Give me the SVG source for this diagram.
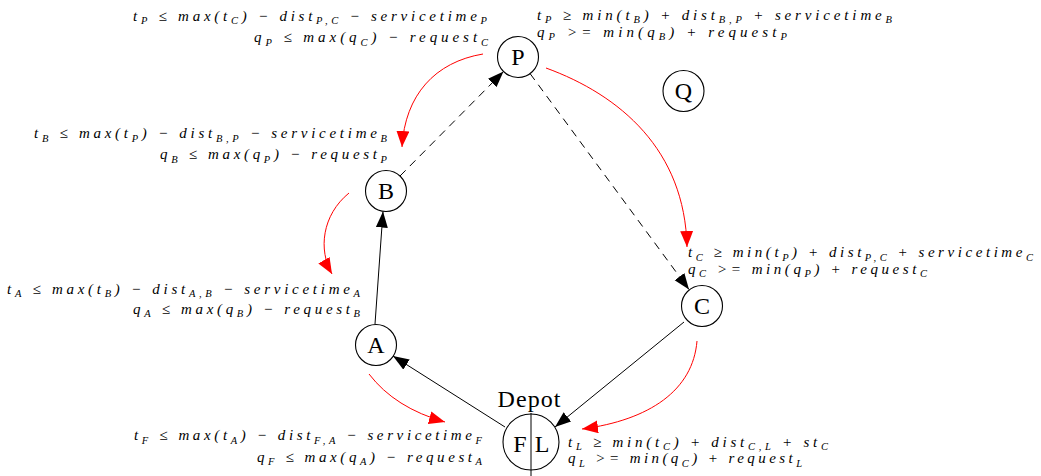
<svg xmlns="http://www.w3.org/2000/svg" width="1041" height="476" viewBox="0 0 1041 476">
<style>
.m{font-family:"Liberation Serif","Times New Roman",serif;font-style:italic;font-size:15px;fill:#000}
.s{font-size:10.5px}
.node{fill:#fff;stroke:#000;stroke-width:1.1}
.lbl{font-family:"Liberation Serif","Times New Roman",serif;font-size:24px;fill:#000;text-anchor:middle}
.blk{fill:none;stroke:#000;stroke-width:1}
.dash{fill:none;stroke:#000;stroke-width:1;stroke-dasharray:8 6}
.red{fill:none;stroke:#ff0000;stroke-width:1}
</style>
<defs>
<marker id="ab" markerUnits="userSpaceOnUse" markerWidth="17" markerHeight="13" refX="16" refY="6" orient="auto">
<path d="M0,0 L16,6 L0,12 z" fill="#000"/>
</marker>
<marker id="ar" markerUnits="userSpaceOnUse" markerWidth="17" markerHeight="14" refX="16" refY="6.5" orient="auto">
<path d="M0,0 L16,6.5 L0,13 z" fill="#ff0000"/>
</marker>
</defs>
<rect width="1041" height="476" fill="#fff"/>

<g id="connectors">
<line class="blk" x1="375" y1="324" x2="383" y2="211.5" marker-end="url(#ab)"/>
<line class="blk" x1="505" y1="427" x2="393" y2="356" marker-end="url(#ab)"/>
<line class="blk" x1="684" y1="322" x2="555" y2="427" marker-end="url(#ab)"/>
<line class="dash" x1="400" y1="176" x2="503.5" y2="71.5" marker-end="url(#ab)"/>
<line class="dash" x1="530" y1="73.5" x2="689" y2="289.5" marker-end="url(#ab)"/>
<path class="red" d="M483,54 C435,62 405,95 402,147" marker-end="url(#ar)"/>
<path class="red" d="M546,68 C620,95 685,150 687,247" marker-end="url(#ar)"/>
<path class="red" d="M349,193 C322,215 318,250 332,274" marker-end="url(#ar)"/>
<path class="red" d="M369,374 Q395,408 445,422" marker-end="url(#ar)"/>
<path class="red" d="M697,341 C693,390 650,420 582,429" marker-end="url(#ar)"/>
</g>

<g id="node-P">
<circle class="node" cx="518" cy="57" r="20.5"/>
<text class="lbl" x="518" y="65">P</text>
</g>
<g id="node-Q">
<circle class="node" cx="683.5" cy="91" r="20.5"/>
<text class="lbl" x="683.5" y="99">Q</text>
</g>
<g id="node-B">
<circle class="node" cx="386" cy="191" r="20.5"/>
<text class="lbl" x="386" y="199">B</text>
</g>
<g id="node-A">
<circle class="node" cx="376" cy="345" r="20.5"/>
<text class="lbl" x="376" y="353">A</text>
</g>
<g id="node-C">
<circle class="node" cx="702" cy="306" r="20.5"/>
<text class="lbl" x="702" y="314">C</text>
</g>
<g id="node-Depot">
<circle class="node" cx="531" cy="442" r="28"/>
<line x1="531" y1="413" x2="531" y2="476" stroke="#000" stroke-width="1"/>
<text class="lbl" x="520" y="451.5">F</text>
<text class="lbl" x="542" y="451.5">L</text>
<text class="lbl" x="529" y="407" textLength="63" lengthAdjust="spacing">Depot</text>
</g>

<g id="labels">
<text class="m" x="487" y="20.5" text-anchor="end" textLength="354" lengthAdjust="spacing">t<tspan class="s" dy="3.5">P</tspan><tspan dy="-3.5"> ≤ max(t</tspan><tspan class="s" dy="3.5">C</tspan><tspan dy="-3.5">) − dist</tspan><tspan class="s" dy="3.5">P,C</tspan><tspan dy="-3.5"> − servicetime</tspan><tspan class="s" dy="3.5">P</tspan></text>
<text class="m" x="488" y="42" text-anchor="end" textLength="234" lengthAdjust="spacing">q<tspan class="s" dy="3.5">P</tspan><tspan dy="-3.5"> ≤ max(q</tspan><tspan class="s" dy="3.5">C</tspan><tspan dy="-3.5">) − request</tspan><tspan class="s" dy="3.5">C</tspan></text>

<text class="m" x="537" y="20" textLength="355" lengthAdjust="spacing">t<tspan class="s" dy="3">P</tspan><tspan dy="-3"> ≥ min(t</tspan><tspan class="s" dy="3">B</tspan><tspan dy="-3">) + dist</tspan><tspan class="s" dy="3">B,P</tspan><tspan dy="-3"> + servicetime</tspan><tspan class="s" dy="3">B</tspan></text>
<text class="m" x="537" y="37" textLength="250" lengthAdjust="spacing">q<tspan class="s" dy="3">P</tspan><tspan dy="-3"> &gt;= min(q</tspan><tspan class="s" dy="3">B</tspan><tspan dy="-3">) + request</tspan><tspan class="s" dy="3">P</tspan></text>

<text class="m" x="387" y="138" text-anchor="end" textLength="353" lengthAdjust="spacing">t<tspan class="s" dy="3.5">B</tspan><tspan dy="-3.5"> ≤ max(t</tspan><tspan class="s" dy="3.5">P</tspan><tspan dy="-3.5">) − dist</tspan><tspan class="s" dy="3.5">B,P</tspan><tspan dy="-3.5"> − servicetime</tspan><tspan class="s" dy="3.5">B</tspan></text>
<text class="m" x="387" y="159" text-anchor="end" textLength="227" lengthAdjust="spacing">q<tspan class="s" dy="3.5">B</tspan><tspan dy="-3.5"> ≤ max(q</tspan><tspan class="s" dy="3.5">P</tspan><tspan dy="-3.5">) − request</tspan><tspan class="s" dy="3.5">P</tspan></text>

<text class="m" x="360" y="293.5" text-anchor="end" textLength="353" lengthAdjust="spacing">t<tspan class="s" dy="3.5">A</tspan><tspan dy="-3.5"> ≤ max(t</tspan><tspan class="s" dy="3.5">B</tspan><tspan dy="-3.5">) − dist</tspan><tspan class="s" dy="3.5">A,B</tspan><tspan dy="-3.5"> − servicetime</tspan><tspan class="s" dy="3.5">A</tspan></text>
<text class="m" x="360" y="313.5" text-anchor="end" textLength="227" lengthAdjust="spacing">q<tspan class="s" dy="3.5">A</tspan><tspan dy="-3.5"> ≤ max(q</tspan><tspan class="s" dy="3.5">B</tspan><tspan dy="-3.5">) − request</tspan><tspan class="s" dy="3.5">B</tspan></text>

<text class="m" x="688" y="257" textLength="345" lengthAdjust="spacing">t<tspan class="s" dy="3.5">C</tspan><tspan dy="-3.5"> ≥ min(t</tspan><tspan class="s" dy="3.5">P</tspan><tspan dy="-3.5">) + dist</tspan><tspan class="s" dy="3.5">P,C</tspan><tspan dy="-3.5"> + servicetime</tspan><tspan class="s" dy="3.5">C</tspan></text>
<text class="m" x="688" y="273.5" textLength="239" lengthAdjust="spacing">q<tspan class="s" dy="3.5">C</tspan><tspan dy="-3.5"> &gt;= min(q</tspan><tspan class="s" dy="3.5">P</tspan><tspan dy="-3.5">) + request</tspan><tspan class="s" dy="3.5">C</tspan></text>

<text class="m" x="482" y="440" text-anchor="end" textLength="348" lengthAdjust="spacing">t<tspan class="s" dy="3.5">F</tspan><tspan dy="-3.5"> ≤ max(t</tspan><tspan class="s" dy="3.5">A</tspan><tspan dy="-3.5">) − dist</tspan><tspan class="s" dy="3.5">F,A</tspan><tspan dy="-3.5"> − servicetime</tspan><tspan class="s" dy="3.5">F</tspan></text>
<text class="m" x="482" y="461.5" text-anchor="end" textLength="225" lengthAdjust="spacing">q<tspan class="s" dy="3.5">F</tspan><tspan dy="-3.5"> ≤ max(q</tspan><tspan class="s" dy="3.5">A</tspan><tspan dy="-3.5">) − request</tspan><tspan class="s" dy="3.5">A</tspan></text>

<text class="m" x="568" y="446.5" textLength="260" lengthAdjust="spacing">t<tspan class="s" dy="3.5">L</tspan><tspan dy="-3.5"> ≥ min(t</tspan><tspan class="s" dy="3.5">C</tspan><tspan dy="-3.5">) + dist</tspan><tspan class="s" dy="3.5">C,L</tspan><tspan dy="-3.5"> + st</tspan><tspan class="s" dy="3.5">C</tspan></text>
<text class="m" x="568" y="463" textLength="234" lengthAdjust="spacing">q<tspan class="s" dy="3.5">L</tspan><tspan dy="-3.5"> &gt;= min(q</tspan><tspan class="s" dy="3.5">C</tspan><tspan dy="-3.5">) + request</tspan><tspan class="s" dy="3.5">L</tspan></text>
</g>
</svg>
